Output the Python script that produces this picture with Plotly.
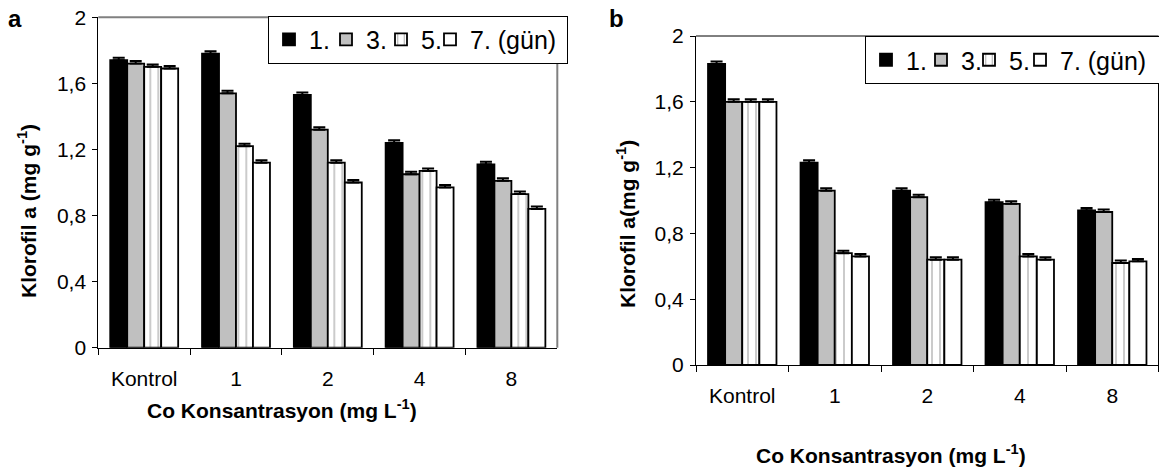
import plotly.graph_objects as go

W, H = 1159, 471

categories = ["Kontrol", "1", "2", "4", "8"]
series_names = ["1.", "3.", "5.", "7. (gün)"]

# Panel a values (Klorofil a, mg g-1)
a_day1 = [1.74, 1.78, 1.53, 1.24, 1.11]
a_day3 = [1.72, 1.54, 1.32, 1.05, 1.01]
a_day5 = [1.70, 1.22, 1.12, 1.07, 0.93]
a_day7 = [1.69, 1.12, 1.00, 0.97, 0.84]
a_err = [0.015, 0.015, 0.015, 0.015, 0.015]

# Panel b values
b_day1 = [1.83, 1.23, 1.06, 0.99, 0.94]
b_day3 = [1.60, 1.06, 1.02, 0.98, 0.93]
b_day5 = [1.60, 0.68, 0.64, 0.66, 0.62]
b_day7 = [1.60, 0.66, 0.64, 0.64, 0.63]
b_err = [0.015, 0.015, 0.015, 0.015, 0.015]

y_tickvals = [0, 0.4, 0.8, 1.2, 1.6, 2.0]
y_ticktext = ["0", "0,4", "0,8", "1,2", "1,6", "2"]

FONT = "Liberation Sans, Arial, sans-serif"

styles = [
    dict(color="black", pattern=None),
    dict(color="#C0C0C0", pattern=None),
    dict(color="white", pattern=dict(shape="|", size=8, solidity=0.12,
                                      fgcolor="#222222", bgcolor="white")),
    dict(color="white", pattern=None),
]

fig = go.Figure()

def add_panel(vals, err, xa, ya, legend, lwidths):
    for i, (name, v) in enumerate(zip(series_names, vals)):
        st = styles[i]
        marker = dict(color=st["color"], line=dict(color="black", width=1.8))
        if st["pattern"]:
            marker["pattern"] = st["pattern"]
        fig.add_trace(go.Bar(
            x=categories, y=v, name=name, xaxis=xa, yaxis=ya,
            legend=legend, legendwidth=lwidths[i],
            marker=marker,
            error_y=dict(type="data", array=err, symmetric=False,
                         arrayminus=[0] * len(err), color="black",
                         thickness=2, width=6),
        ))

add_panel([a_day1, a_day3, a_day5, a_day7], a_err, "x", "y", "legend",
          [12, 10, 4, 92])
add_panel([b_day1, b_day3, b_day5, b_day7], b_err, "x2", "y2", "legend2",
          [10, 3, 6, 96])

def px_x(p):
    return p / W

def px_y(p):
    return 1 - p / H

a_dom_x = [px_x(98.3), px_x(557.3)]
a_dom_y = [px_y(347.7), px_y(17.3)]
b_dom_x = [px_x(696), px_x(1158.5)]
b_dom_y = [px_y(365), px_y(36)]

xaxis_common = dict(
    type="category", showline=True, linecolor="black", linewidth=1,
    ticks="outside", ticklen=6, tickcolor="black", tickson="boundaries",
    tickfont=dict(family=FONT, size=21, color="black"),
    ticklabelstandoff=12, showgrid=False, zeroline=False, fixedrange=True,
    automargin=False,
)
yaxis_common = dict(
    range=[0, 2], tickvals=y_tickvals, ticktext=y_ticktext,
    showline=True, linecolor="black", linewidth=1,
    ticks="outside", ticklen=5, tickcolor="black",
    tickfont=dict(family=FONT, size=21, color="black"),
    ticklabelstandoff=2, showgrid=False, zeroline=False, fixedrange=True,
    automargin=False,
)

legend_common = dict(
    orientation="h", xanchor="left", yanchor="top",
    bgcolor="white", bordercolor="black", borderwidth=1,
    font=dict(family=FONT, size=25, color="black"),
    traceorder="normal",
)

fig.update_layout(
    width=W, height=H,
    margin=dict(l=0, r=0, t=0, b=0, autoexpand=False),
    paper_bgcolor="white", plot_bgcolor="white",
    barmode="group", bargap=0.26, bargroupgap=0,
    font=dict(family=FONT, color="black"),
    xaxis=dict(domain=a_dom_x, anchor="y", **xaxis_common),
    yaxis=dict(domain=a_dom_y, anchor="x", **yaxis_common),
    xaxis2=dict(domain=b_dom_x, anchor="y2", **xaxis_common),
    yaxis2=dict(domain=b_dom_y, anchor="x2", **yaxis_common),
    legend=dict(x=px_x(268), y=px_y(15.7), **legend_common),
    legend2=dict(x=px_x(865), y=px_y(36), **legend_common),
)

# Plot frames (top and right edges)
fig.add_shape(type="line", xref="x domain", yref="y domain", x0=0, x1=1, y0=1, y1=1,
              line=dict(color="#808080", width=2))
fig.add_shape(type="line", xref="x domain", yref="y domain", x0=1, x1=1, y0=0, y1=1,
              line=dict(color="#808080", width=2))
fig.add_shape(type="line", xref="x2 domain", yref="y2 domain", x0=0, x1=1, y0=1, y1=1,
              line=dict(color="black", width=1))
fig.add_shape(type="line", xref="x2 domain", yref="y2 domain", x0=1, x1=1, y0=0, y1=1,
              line=dict(color="black", width=1))

title_font = dict(family=FONT, size=21, color="black")
ann = [
    dict(text="<b>a</b>", x=px_x(15.5), y=px_y(19), font=dict(family=FONT, size=24, color="black")),
    dict(text="<b>b</b>", x=px_x(616), y=px_y(19), font=dict(family=FONT, size=24, color="black")),
    dict(text="<b>Klorofil a (mg g<sup>-1</sup>)</b>", x=px_x(27), y=px_y(211),
         textangle=-90, font=title_font),
    dict(text="<b>Klorofil a(mg g<sup>-1</sup>)</b>", x=px_x(626), y=px_y(224),
         textangle=-90, font=title_font),
    dict(text="<b>Co Konsantrasyon (mg L<sup>-1</sup>)</b>", x=px_x(281.7), y=px_y(409),
         font=title_font),
    dict(text="<b>Co Konsantrasyon (mg L<sup>-1</sup>)</b>", x=px_x(890.8), y=px_y(454),
         font=title_font),
]
for a in ann:
    fig.add_annotation(xref="paper", yref="paper", showarrow=False,
                       xanchor="center", yanchor="middle", **a)

fig.write_html(
    "out.html",
    config={"displayModeBar": False},
    post_script="document.body.style.margin='0';document.body.style.overflow='hidden';",
)
